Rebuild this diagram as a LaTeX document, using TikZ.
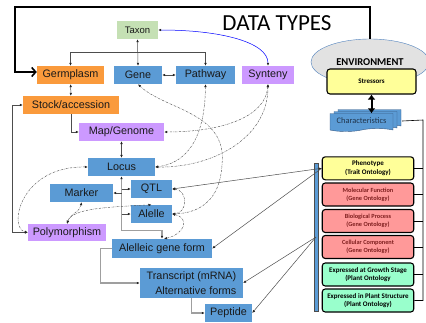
\documentclass[tikz,border=0pt]{standalone}
\usepackage{fontspec}
\setmainfont{Liberation Sans}
\newfontfamily\carl{Carlito}
\usetikzlibrary{arrows.meta,positioning,shapes.geometric,shapes.symbols,shadows}
\definecolor{boxblue}{HTML}{5B9BD5}
\definecolor{boxorange}{HTML}{FA9A3C}
\definecolor{boxpurple}{HTML}{CC99FF}
\definecolor{taxgreen}{HTML}{C5E0B4}
\definecolor{phenoyellow}{HTML}{FFFF99}
\definecolor{gopink}{HTML}{FF9999}
\definecolor{pomint}{HTML}{99FFCC}
\definecolor{envgray}{HTML}{E2E2E2}
\definecolor{envblue}{HTML}{4F81BD}
\definecolor{linegray}{HTML}{4D4D4D}
\definecolor{gotext}{HTML}{7F1F1F}

\begin{document}
\begin{tikzpicture}[x=1pt,y=-1pt,
  >={Latex[length=3pt,width=2.6pt,color=black!85]},
  box/.style={minimum height=18pt,inner sep=0pt,text=black!90,font=\fontsize{10.8}{12}\selectfont},
  rbox/.style={draw,rounded corners=3pt,line width=1.1pt,minimum width=91.5pt,minimum height=23pt,inner sep=0pt,align=center},
  link/.style={draw=linegray,line width=0.5pt},
  trunk/.style={draw=gray!75,line width=1.2pt},
  dotlink/.style={draw=gray!75!black,line width=0.5pt,dash pattern=on 2pt off 1pt on 0.4pt off 1pt,<->},
  bigline/.style={line width=1.6pt,-{Straight Barb[length=4pt,width=9pt]}},
]
  \useasboundingbox (0,0) rectangle (426,322);

  \node[font=\carl\fontsize{23}{26}\selectfont] (title) at (277,23) {DATA TYPES};

  % data type boxes
  \node[box,fill=taxgreen,minimum width=41pt,font=\fontsize{9.5}{11}\selectfont] (taxon) at (137.5,30) {Taxon};
  \node[box,fill=boxorange,minimum width=67pt] (germ) at (70.5,75) {Germplasm};
  \node[box,fill=boxblue,minimum width=48pt] (gene) at (138,75) {Gene};
  \node[box,fill=boxblue,minimum width=59pt] (path) at (205.5,75) {Pathway};
  \node[box,fill=boxpurple,minimum width=52pt] (synt) at (268,75) {Synteny};
  \node[box,fill=boxorange,minimum width=96pt] (stock) at (71,105) {Stock/accession};
  \node[box,fill=boxpurple,minimum width=85pt] (map) at (121.5,132) {Map/Genome};
  \node[box,fill=boxblue,minimum width=67pt] (locus) at (121.5,167) {Locus};
  \node[box,fill=boxblue,minimum width=63pt] (marker) at (81.5,193) {Marker};
  \node[box,fill=boxblue,minimum width=41pt] (qtl) at (151.5,189) {QTL};
  \node[box,fill=boxblue,minimum width=41pt] (allele) at (151.5,214) {Alelle};
  \node[box,fill=boxpurple,minimum width=78pt,minimum height=17pt] (poly) at (67,232.5) {Polymorphism};
  \node[box,fill=boxblue,minimum width=100pt,minimum height=19pt] (agf) at (162,248.5) {Alelleic gene form};
  \node[box,fill=boxblue,minimum width=103pt,minimum height=30pt,align=right,font=\fontsize{10.8}{15}\selectfont] (trans) at (191.5,283) {Transcript (mRNA)\\Alternative forms};
  \node[box,fill=boxblue,minimum width=47pt] (pep) at (228.5,313) {Peptide};

  % environment side
  \node[ellipse,draw=envblue,fill=envgray,minimum width=118pt,minimum height=46pt,inner sep=0pt,font=\carl\bfseries\fontsize{10.5}{12}\selectfont] (env) at (370,62) {ENVIRONMENT};
  \node[rbox,fill=phenoyellow,minimum width=89pt,minimum height=25pt,font=\carl\bfseries\fontsize{7}{8}\selectfont] (stress) at (371.5,81.5) {Stressors};
  \node[tape,tape bend top=none,tape bend height=3pt,draw=envblue!70!black,fill=boxblue,minimum width=63pt,minimum height=18pt,inner sep=0pt,
    double copy shadow={shadow xshift=4pt,shadow yshift=2pt,fill=boxblue,draw=envblue!70!black},
    text=envblue!40!black,font=\carl\fontsize{8.4}{10}\selectfont] (chars) at (361.5,121) {Characteristics};

  \node[draw=black!70,fill=boxblue,line width=0.4pt,minimum width=3.5pt,minimum height=148pt,inner sep=0pt] (bar) at (316,237) {};
  \node[rbox,fill=phenoyellow,font=\carl\bfseries\fontsize{7}{9.5}\selectfont] (pheno) at (368,168.3) {Phenotype\\(Trait Ontology)};
  \node[rbox,fill=gopink,text=gotext,font=\carl\bfseries\fontsize{6.3}{7.8}\selectfont] (molfun) at (368,194.5) {Molecular Function\\(Gene Ontology)};
  \node[rbox,fill=gopink,text=gotext,font=\carl\bfseries\fontsize{6.3}{7.8}\selectfont] (bioproc) at (368,221) {Biological Process\\(Gene Ontology)};
  \node[rbox,fill=gopink,text=gotext,font=\carl\bfseries\fontsize{6.3}{7.8}\selectfont] (cellcomp) at (368,247) {Cellular Component\\(Gene Ontology)};
  \node[rbox,fill=pomint,font=\carl\bfseries\fontsize{7}{8.5}\selectfont] (growth) at (368,274.5) {Expressed at Growth Stage\\(Plant Ontology};
  \node[rbox,fill=pomint,font=\carl\bfseries\fontsize{7}{8.5}\selectfont] (struct) at (368,300.5) {Expressed in Plant Structure\\(Plant Ontology)};

  % solid links
  \coordinate (tl) at (15,7);
  \draw[bigline] (env.north) |- (tl) |- ([yshift=3pt]germ.west);
  \draw[line width=2pt,{Latex[length=5pt,width=8pt]}-{Latex[length=5pt,width=8pt]}] (stress.south) -- (stress.south |- chars.north);
  \coordinate (rl) at (423,120);
  \draw[line width=0.6pt] ([xshift=9pt]chars.east) -- (rl) |- (struct.east);
  \foreach \n in {pheno,molfun,bioproc,cellcomp,growth}
    \draw[line width=0.6pt] (rl |- \n.east) -- (\n.east);

  \draw[link,<->] (taxon.south) -- (gene.north);
  \draw[link,<->] (germ.north) -- ++(0,-14) -| (path.north);
  \draw[link,<->] (gene) -- (path);
  \draw[blue,line width=0.5pt,<->] (taxon.east) .. controls (220,30) and (268,42) .. (synt.north);
  \draw[link,<->] (germ) -- (stock);
  \draw[link,->] (stock.south) |- (map.west);
  \draw[link,<->] (stock.west) -- ++(-11,0) |- (poly.west);
  \draw[link,<->] (map) -- (locus);
  \draw[trunk,<->] (locus.south) -- ++(0,54) -| (agf.north);
  \draw[link,->] (locus.south |- marker.east) -- (marker.east);
  \draw[link,->] (locus.south |- qtl.west) -- (qtl.west);
  \draw[link,->] (locus.south |- allele.west) -- (allele.west);
  \draw[trunk,->] (agf.west) -- ++(-11,0) |- (trans.west);
  \draw[trunk,->] (trans.south) |- (pep.west);

  \draw[link,<->] (qtl.east) -- (pheno.west);
  \draw[link,->] (pheno.west) -- (agf.east);
  \draw[link,->] (bar.center) -- (trans.east);
  \draw[link,->] (bar.center) -- (pep.east);

  % dash-dot relations
  \draw[dotlink] (gene.south) .. controls (165,110) and (228,112) .. (222,165) .. controls (220,200) and (200,213) .. (allele.east);
  \draw[dotlink] (path.south) .. controls (205,125) and (195,162) .. (locus.east);
  \draw[dotlink] (synt.south) .. controls (265,120) and (215,132) .. (map.east);
  \draw[dotlink] (synt.south) .. controls (268,140) and (210,168) .. (locus.east);
  \draw[dotlink] (qtl.east) .. controls (188,190) and (188,213) .. (allele.east);
  \draw[dotlink] (allele.east) .. controls (190,218) and (185,234) .. ([xshift=2pt]agf.north);
  \draw[dotlink] (marker.south) .. controls (80,212) and (70,214) .. (poly.north);
  \draw[dotlink] (poly.north) .. controls (72,208) and (110,207) .. (allele.north);
  \draw[dotlink] (locus.west) .. controls (20,166) and (8,228) .. (poly.west);
\end{tikzpicture}
\end{document}
